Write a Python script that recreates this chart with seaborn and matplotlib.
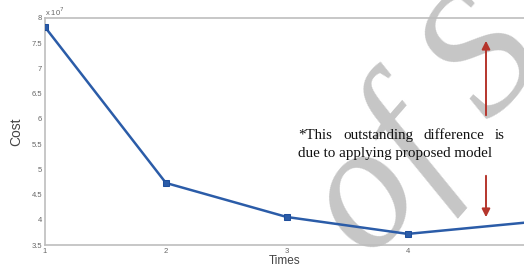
import matplotlib
matplotlib.use("Agg")
import matplotlib.pyplot as plt
import seaborn as sns
from matplotlib.ticker import FuncFormatter

# -------- DATA --------
times = [1, 2, 3, 4, 5]
cost = [7.82e7, 4.73e7, 4.055e7, 3.72e7, 3.95e7]
y_ticks = [3.5e7, 4e7, 4.5e7, 5e7, 5.5e7, 6e7, 6.5e7, 7e7, 7.5e7, 8e7]
note_line1 = ["*This", "outstanding", "difference", "is"]
note_line2 = "due to applying proposed model"

W, H = 524, 270
sns.set_style("white")
plt.rcParams['font.family'] = ['Liberation Sans', 'DejaVu Sans']

fig = plt.figure(figsize=(W / 100, H / 100), dpi=100)
# plot area runs off the right edge (image is cropped there)
ax = fig.add_axes([45 / W, 1 - 245 / H, 480 / W, 227 / H])

# watermark behind the line
ax.text(0.815, 0.515, "of S", transform=fig.transFigure, rotation=49,
        fontsize=128, family='Liberation Serif', style='italic',
        color='#c6c6c6', ha='center', va='center', zorder=1, clip_on=False)

sns.lineplot(x=times, y=cost, marker='s', color='#2b5ca8', linewidth=1.8,
             markersize=4, markeredgecolor='#1f4f9c', ax=ax, zorder=3)

ax.set_xlim(1, 4.97)
ax.set_ylim(3.5e7, 8e7)
ax.set_xticks(times[:4])
ax.set_yticks(y_ticks)
ax.yaxis.set_major_formatter(FuncFormatter(lambda v, p: '%g' % (v / 1e7)))
ax.tick_params(axis='both', direction='in', length=3, width=0.6,
               colors='#999999', labelsize=5.5, labelcolor='#666666', pad=2)
for s in ['left', 'top', 'bottom']:
    ax.spines[s].set_color('#bdbdbd')
    ax.spines[s].set_linewidth(1.2)
ax.spines['right'].set_visible(False)

ax.set_xlabel('Times', fontsize=8.5, color='#444444', labelpad=0)
ax.set_ylabel('Cost', fontsize=10, color='#444444', labelpad=6)
ax.text(0.0, 1.0, r'x 10$^7$', transform=ax.transAxes, fontsize=5.5,
        color='#666666', ha='left', va='bottom')

# arrows
ax.annotate('', xy=(486 / W, 1 - 38 / H), xytext=(486 / W, 1 - 118 / H),
            xycoords='figure fraction', textcoords='figure fraction',
            arrowprops=dict(arrowstyle='-|>', color='#b5352c', lw=1.4,
                            mutation_scale=12))
ax.annotate('', xy=(486 / W, 1 - 220 / H), xytext=(486 / W, 1 - 173 / H),
            xycoords='figure fraction', textcoords='figure fraction',
            arrowprops=dict(arrowstyle='-|>', color='#b5352c', lw=1.4,
                            mutation_scale=12))

# justified note text
word_x = [298, 343, 423, 505]
aligns = ['left', 'left', 'left', 'right']
for w, x, a in zip(note_line1, word_x, aligns):
    fig.text(x / W, 1 - 139 / H, w, fontsize=10.8, family='Liberation Serif',
             ha=a, va='baseline', color='#111111', zorder=5)
fig.text(298 / W, 1 - 157 / H, note_line2, fontsize=10.8, family='Liberation Serif',
         ha='left', va='baseline', color='#111111', zorder=5)

fig.savefig('out.png', dpi=100)
